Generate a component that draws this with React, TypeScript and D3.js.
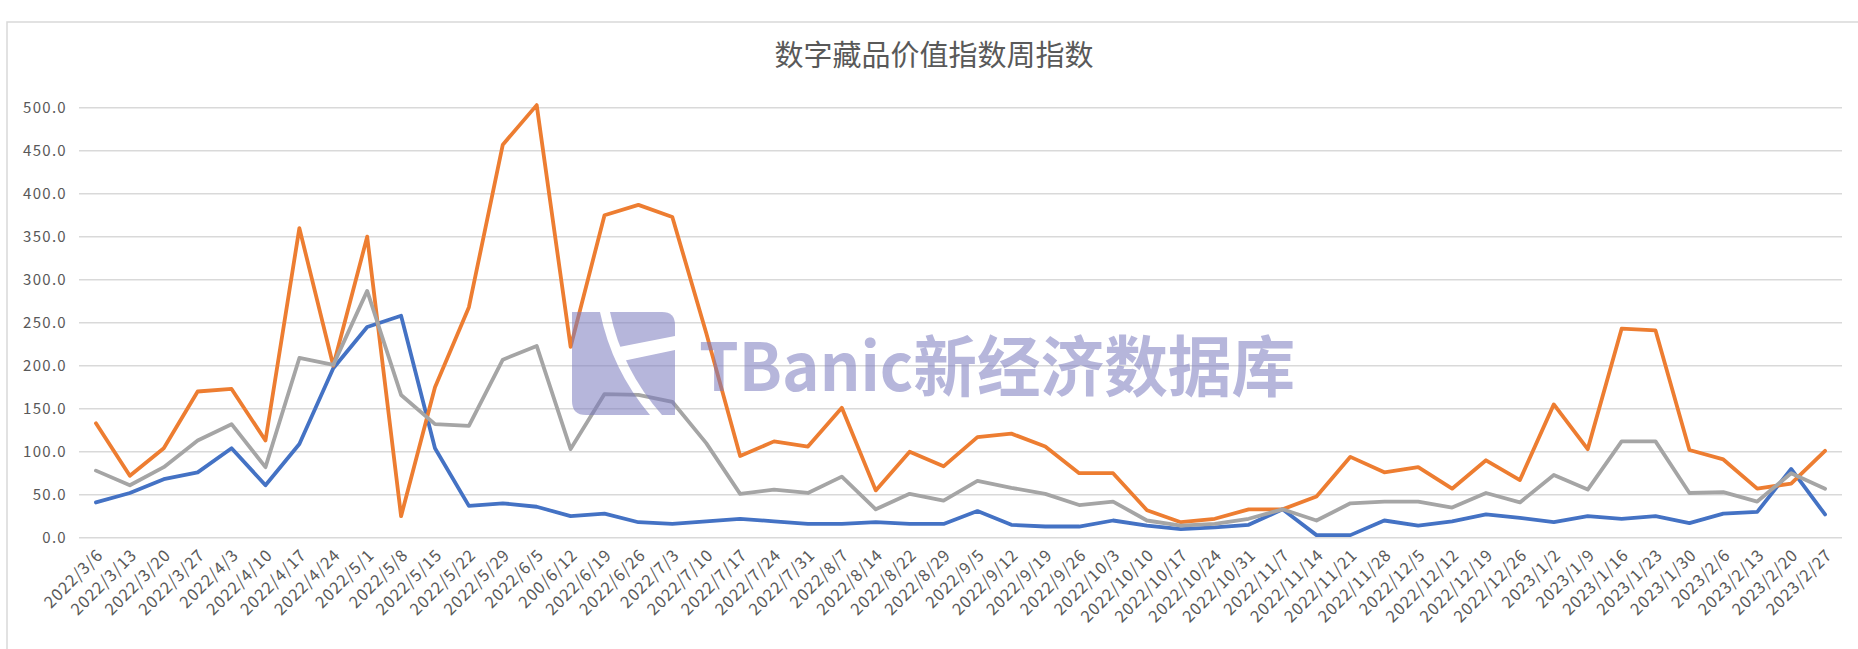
import React from 'react';
import * as d3 from 'd3';

const dates = [
  '2022/3/6', '2022/3/13', '2022/3/20', '2022/3/27', '2022/4/3', '2022/4/10', '2022/4/17', '2022/4/24',
  '2022/5/1', '2022/5/8', '2022/5/15', '2022/5/22', '2022/5/29', '2022/6/5', '200/6/12', '2022/6/19',
  '2022/6/26', '2022/7/3', '2022/7/10', '2022/7/17', '2022/7/24', '2022/7/31', '2022/8/7', '2022/8/14',
  '2022/8/22', '2022/8/29', '2022/9/5', '2022/9/12', '2022/9/19', '2022/9/26', '2022/10/3', '2022/10/10',
  '2022/10/17', '2022/10/24', '2022/10/31', '2022/11/7', '2022/11/14', '2022/11/21', '2022/11/28', '2022/12/5',
  '2022/12/12', '2022/12/19', '2022/12/26', '2023/1/2', '2023/1/9', '2023/1/16', '2023/1/23', '2023/1/30',
  '2023/2/6', '2023/2/13', '2023/2/20', '2023/2/27',
];

// blue series
const blueValues = [
  41, 52, 68, 76, 104, 61, 109, 197, 245, 258, 104, 37, 40, 36, 25, 28,
  18, 16, 19, 22, 19, 16, 16, 18, 16, 16, 31, 15, 13, 13, 20, 14,
  10, 12, 15, 33, 3, 3, 20, 14, 19, 27, 23, 18, 25, 22, 25, 17,
  28, 30, 80, 27,
];

// orange series
const orangeValues = [
  133, 72, 104, 170, 173, 113, 360, 200, 350, 25, 175, 268, 457, 503, 222, 375,
  387, 373, 238, 95, 112, 106, 151, 55, 100, 83, 117, 121, 106, 75, 75, 32,
  18, 22, 33, 33, 48, 94, 76, 82, 57, 90, 67, 155, 103, 243, 241, 102,
  91, 57, 63, 101,
];

// grey series
const greyValues = [
  78, 61, 82, 113, 132, 82, 209, 201, 287, 166, 132, 130, 207, 223, 103, 167,
  166, 158, 110, 51, 56, 52, 71, 33, 51, 43, 66, 58, 51, 38, 42, 20,
  14, 16, 22, 33, 20, 40, 42, 42, 35, 52, 41, 73, 56, 112, 112, 52,
  53, 42, 75, 57,
];

const yTicks = [0, 50, 100, 150, 200, 250, 300, 350, 400, 450, 500];

const W = 1858;
const H = 649;
const textColor = '#595959';
const gridColor = '#d9d9d9';
const markColor = '#7a7abd';

export default function App() {
  const x = d3.scalePoint<string>().domain(dates).range([79, 1842]).padding(0.5);
  const y = d3.scaleLinear().domain([0, 500]).range([537.7, 107.7]);
  const fmt = d3.format('.1f');

  const line = d3.line<number>()
    .x((_, i) => x(dates[i])!)
    .y(d => y(d));

  const series = [
    { values: blueValues, color: '#4472C4' },
    { values: orangeValues, color: '#ED7D31' },
    { values: greyValues, color: '#A5A5A5' },
  ];

  return (
    <svg width={W} height={H} style={{ position: 'absolute', left: 0, top: 0, background: '#fff' }}
      fontFamily="'Noto Sans CJK SC', 'Noto Sans', sans-serif">
      <rect x={7} y={22} width={W + 20} height={H + 20} fill="#fff" stroke={gridColor} strokeWidth={1.5} />

      <text x={934} y={53} textAnchor="middle" dominantBaseline="central" fontSize={29} fill={textColor}>
        数字藏品价值指数周指数
      </text>

      {/* grid + y labels */}
      {yTicks.map(t => (
        <g key={t}>
          <line x1={79} x2={1842} y1={y(t)} y2={y(t)} stroke={gridColor} strokeWidth={1.5} />
          <text x={67} y={y(t)} dy="0.35em" textAnchor="end" fontSize={15} fill={textColor} letterSpacing={1.3}>
            {fmt(t)}
          </text>
        </g>
      ))}

      {/* x labels */}
      {dates.map(d => (
        <text key={d} transform={`translate(${x(d)! + 4},${552}) rotate(-45)`} dy="0.35em"
          textAnchor="end" fontSize={16.5} fill={textColor} letterSpacing={0.9}>
          {d}
        </text>
      ))}

      {series.map((s, i) => (
        <path key={i} d={line(s.values)!} fill="none" stroke={s.color} strokeWidth={3.8}
          strokeLinejoin="round" strokeLinecap="round" />
      ))}

      {/* watermark */}
      <g fill={markColor} fillOpacity={0.55}>
        <path d="M572,312 H600 Q612,370 650,415 H586 Q572,415 572,401 Z" />
        <path d="M610,312 H662 Q675,312 675,325 V415 H662 Q622,370 610,312 Z" />
      </g>
      <path d="M614,348 L675,336 L675,350 L618,362 Z" fill="#fff" />
      <text x={699} y={391} fontSize={66} fontWeight={700} textLength={596} lengthAdjust="spacingAndGlyphs"
        fill={markColor} fillOpacity={0.55}>
        TBanic新经济数据库
      </text>
    </svg>
  );
}
